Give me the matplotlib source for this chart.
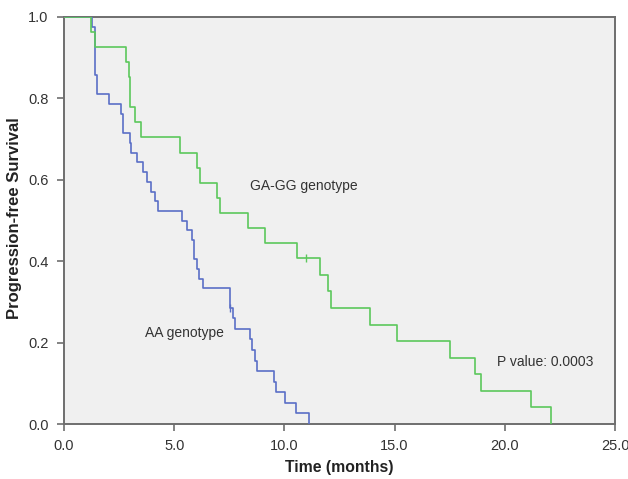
import matplotlib
matplotlib.use("Agg")
import matplotlib.pyplot as plt

plt.rcParams['font.family'] = ['Liberation Sans', 'DejaVu Sans']

# AA genotype (blue) Kaplan-Meier steps
aa_time = [0.0, 1.27, 1.39, 1.50, 2.03, 2.60, 2.68, 2.98, 3.05, 3.33, 3.58, 3.78,
           3.96, 4.12, 4.26, 5.34, 5.57, 5.82, 5.91, 6.02, 6.14, 6.32, 7.51, 7.68,
           7.78, 8.44, 8.53, 8.67, 8.74, 9.52, 9.60, 10.01, 10.53, 11.13]
aa_surv = [1.0, 0.976, 0.857, 0.810, 0.786, 0.762, 0.714, 0.690, 0.667, 0.643, 0.619, 0.595,
           0.571, 0.548, 0.524, 0.500, 0.476, 0.452, 0.405, 0.381, 0.357, 0.333, 0.286, 0.260,
           0.234, 0.208, 0.182, 0.156, 0.130, 0.104, 0.078, 0.052, 0.026, 0.0]
aa_cens_time = [7.55]
aa_cens_surv = [0.286]

# GA-GG genotype (green) Kaplan-Meier steps
gg_time = [0.0, 1.24, 1.42, 2.83, 2.94, 3.01, 3.21, 3.51, 5.25, 6.05, 6.17, 6.96, 7.08,
           8.33, 9.12, 10.56, 11.60, 12.00, 12.13, 13.90, 15.12, 17.50, 18.65, 18.90,
           21.20, 22.10]
gg_surv = [1.0, 0.963, 0.926, 0.889, 0.852, 0.778, 0.741, 0.704, 0.667, 0.630, 0.593, 0.556,
           0.519, 0.481, 0.444, 0.407, 0.366, 0.326, 0.285, 0.244, 0.203, 0.163, 0.122,
           0.081, 0.041, 0.0]
gg_cens_time = [11.0]
gg_cens_surv = [0.407]

x_ticks = [0, 5, 10, 15, 20, 25]
x_labels = ["0.0", "5.0", "10.0", "15.0", "20.0", "25.0"]
y_ticks = [0.0, 0.2, 0.4, 0.6, 0.8, 1.0]
y_labels = ["0.0", "0.2", "0.4", "0.6", "0.8", "1.0"]

blue = '#5a6fc6'
green = '#5cc85c'
frame = '#6e6e6e'

fig = plt.figure(figsize=(6.28, 4.79), dpi=100)
ax = fig.add_axes([64/628, 1-424/479, (615-64)/628, (424-17)/479])
ax.set_facecolor('#f0f0f0')

ax.step(aa_time, aa_surv, where='post', color=blue, lw=1.2, zorder=3)
ax.step(gg_time, gg_surv, where='post', color=green, lw=1.2, zorder=3)
ax.plot(aa_cens_time, aa_cens_surv, linestyle='none', marker='|', ms=6, mew=1.0, color=blue, zorder=4)
ax.plot(gg_cens_time, gg_cens_surv, linestyle='none', marker='|', ms=6, mew=1.0, color=green, zorder=4)

ax.set_xlim(0, 25)
ax.set_ylim(0, 1.0)
ax.set_xticks(x_ticks)
ax.set_xticklabels(x_labels)
ax.set_yticks(y_ticks)
ax.set_yticklabels(y_labels)
ax.tick_params(axis='both', direction='out', length=5, width=1.2, color=frame,
               labelsize=10.5, labelcolor='#333333', pad=6)

for sp in ax.spines.values():
    sp.set_color(frame)
    sp.set_linewidth(1.4)

ax.set_xlabel("Time (months)", fontsize=11.3, fontweight='bold', color='#222222')
ax.set_ylabel("Progression-free Survival", fontsize=12, fontweight='bold', color='#222222')
ax.xaxis.set_label_coords(0.5, -0.088)
ax.yaxis.set_label_coords(-0.077, 0.506)

ax.text(8.45, 0.585, "GA-GG genotype", fontsize=10, color='#333333', ha='left', va='center')
ax.text(3.67, 0.223, "AA genotype", fontsize=10, color='#333333', ha='left', va='center')
ax.text(19.63, 0.153, "P value: 0.0003", fontsize=10, color='#333333', ha='left', va='center')

fig.savefig("out.png", dpi=100, facecolor='white')
